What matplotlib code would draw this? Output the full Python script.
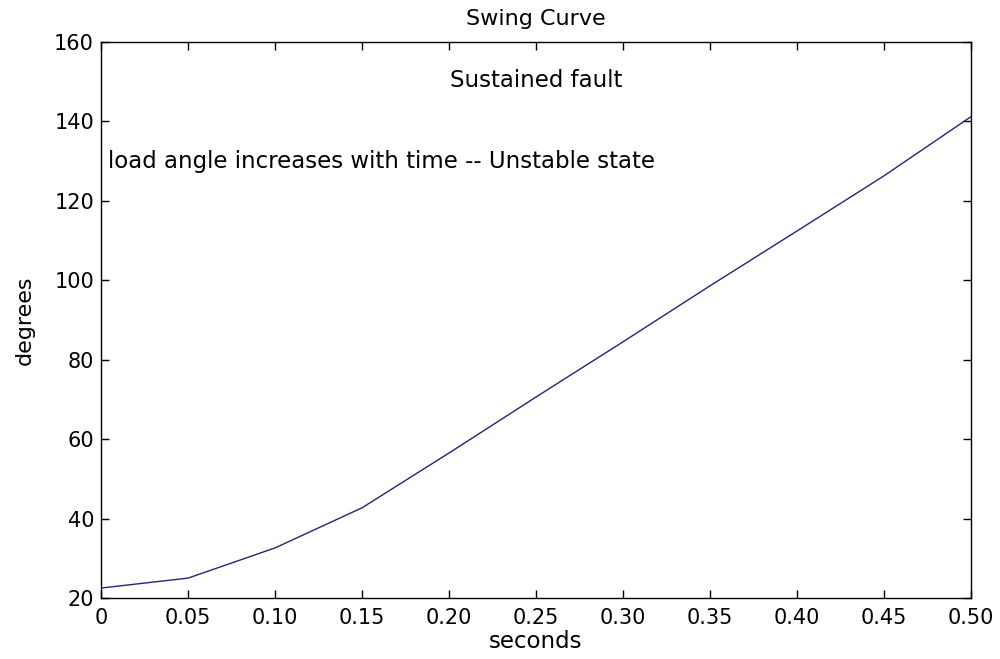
import matplotlib.pyplot as plt
import numpy as np

# swing curve data
t = [0.00, 0.05, 0.10, 0.15, 0.20, 0.25, 0.30, 0.35, 0.40, 0.45, 0.50]
delta = [22.5, 25.0, 32.6, 42.7, 56.5, 70.6, 84.5, 98.6, 112.4, 126.3, 141.2]
xticks = [0, 0.05, 0.10, 0.15, 0.20, 0.25, 0.30, 0.35, 0.40, 0.45, 0.50]
xticklabels = ['0', '0.05', '0.10', '0.15', '0.20', '0.25', '0.30', '0.35', '0.40', '0.45', '0.50']
yticks = [20, 40, 60, 80, 100, 120, 140, 160]

plt.rcParams['font.family'] = ['DejaVu Sans']

fig = plt.figure(figsize=(10, 6.59), dpi=100)
ax = fig.add_axes([0.101, 0.0926, 0.870, 0.8437])
ax.plot(t, delta, color='#23237f', lw=1.0)

ax.set_xlim(0, 0.5)
ax.set_ylim(20, 160)
ax.set_xticks(xticks)
ax.set_xticklabels(xticklabels)
ax.set_yticks(yticks)
ax.tick_params(direction='in', length=6, width=1, top=True, right=True,
               labelsize=15)
ax.tick_params(axis='x', pad=7)
ax.tick_params(axis='y', pad=5)
for s in ax.spines.values():
    s.set_linewidth(1)

ax.set_title('Swing Curve', fontsize=16, pad=12)
ax.set_xlabel('seconds', fontsize=16.5, labelpad=2)
ax.set_ylabel('degrees', fontsize=16, labelpad=14)

ax.text(0.25, 150.2, 'Sustained fault', ha='center', va='center', fontsize=16.5)
ax.text(0.004, 130, 'load angle increases with time -- Unstable state',
        ha='left', va='center', fontsize=16.5)

fig.savefig('out.png', dpi=100)
